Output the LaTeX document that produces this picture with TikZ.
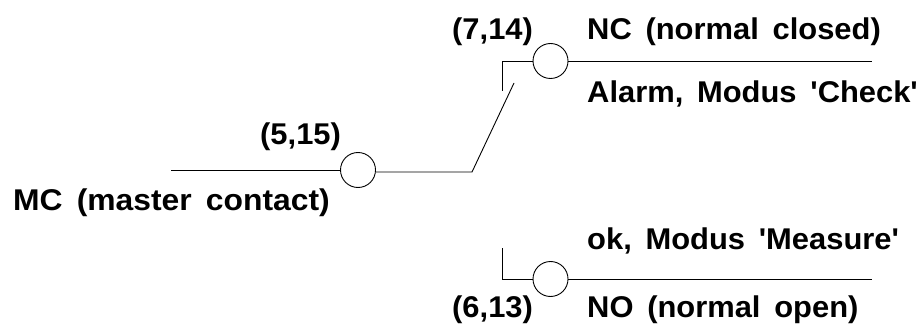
\documentclass[tikz,border=0pt]{standalone}
\usepackage{fontspec}
\newfontfamily\labfont[WordSpace=1.6,FakeStretch=1.03]{Liberation Sans}
\begin{document}
\begin{tikzpicture}[x=1pt,y=-1pt,
  wire/.style={draw=black,line width=0.9pt},
  term/.style={circle,draw=black,line width=0.9pt,minimum size=35pt,inner sep=0pt,fill=white},
  lab/.style={inner sep=0pt,anchor=base west,font=\labfont\fontsize{30}{34}\selectfont\bfseries}]
\useasboundingbox (0,0) rectangle (920,331);
\node[term] (c1) at (358,170) {};
\node[term] (c2) at (550.5,61) {};
\node[term] (c3) at (550.5,279) {};
\coordinate (a1) at (171,170);
\coordinate (r1) at (376,172);
\coordinate (h1) at (472,172);
\coordinate (h2) at (514,83);
\coordinate (b2) at (502,91);
\coordinate (t2) at (502,61);
\coordinate (e2) at (872,61);
\coordinate (b3) at (502,248);
\coordinate (t3) at (502,279);
\coordinate (e3) at (872,279);
\draw[wire] (a1) -- (c1);
\draw[wire] (r1) -- (h1) -- (h2);
\draw[wire] (b2) -- (t2) -- (c2);
\draw[wire] (c2) -- (e2);
\draw[wire] (b3) -- (t3) -- (c3);
\draw[wire] (c3) -- (e3);
\node[lab] (l1) at (452,40) {(7,14)};
\node[lab] (l2) at (587,40) {NC (normal closed)};
\node[lab] (l3) at (587,103) {Alarm, Modus 'Check'};
\node[lab] (l4) at (260,145) {(5,15)};
\node[lab,xscale=1.03] (l5) at (13,211) {MC (master contact)};
\node[lab] (l6) at (587,249) {ok, Modus 'Measure'};
\node[lab] (l7) at (452,317) {(6,13)};
\node[lab] (l8) at (587,317) {NO (normal open)};
\end{tikzpicture}
\end{document}
